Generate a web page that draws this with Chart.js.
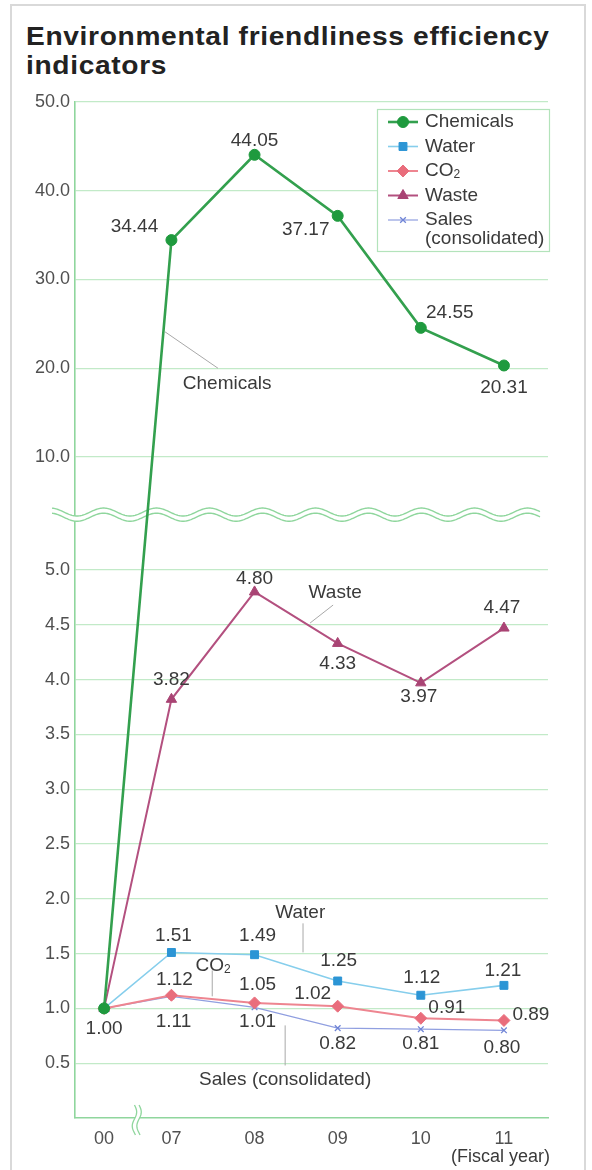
<!DOCTYPE html>
<html>
<head>
<meta charset="utf-8">
<title>Environmental friendliness efficiency indicators</title>
<script src="https://cdn.jsdelivr.net/npm/chart.js@4/dist/chart.umd.min.js"></script>
<style>
  html, body { margin: 0; padding: 0; background: #fff; }
  #wrap { position: relative; width: 592px; height: 1170px; overflow: hidden; }
  #frame { position: absolute; left: 10px; top: 4px; width: 572px; height: 1200px; border: 2px solid #d9d9d9; box-sizing: content-box; }
  #title {
    position: absolute; left: 26px; top: 22px; margin: 0;
    font: bold 25px "Liberation Sans", Arial, Helvetica, sans-serif;
    line-height: 29px; letter-spacing: 0.6px; color: #222;
    transform: scaleX(1.125); transform-origin: 0 0; white-space: nowrap;
  }
  canvas { position: absolute; left: 0; top: 0; }
</style>
</head>
<body>
<div id="wrap">
  <div id="frame"></div>
  <h1 id="title">Environmental friendliness efficiency<br>indicators</h1>
  <canvas id="chart" width="592" height="1170"></canvas>
</div>
<script>
// ---- data ----
const years = ['00', '07', '08', '09', '10', '11'];
const chemicals = [1.00, 34.44, 44.05, 37.17, 24.55, 20.31];
const water     = [1.00, 1.51, 1.49, 1.25, 1.12, 1.21];
const co2       = [1.00, 1.12, 1.05, 1.02, 0.91, 0.89];
const waste     = [1.00, 3.82, 4.80, 4.33, 3.97, 4.47];
const sales     = [1.00, 1.11, 1.01, 0.82, 0.81, 0.80];
const lowerTicks = [0.5, 1.0, 1.5, 2.0, 2.5, 3.0, 3.5, 4.0, 4.5, 5.0];
const upperTicks = [10, 20, 30, 40, 50];

// ---- look & layout ----
const FONT = '"Liberation Sans", Arial, Helvetica, sans-serif';
const TEXT_SIZE = 19;
const TEXT_COLOR = '#3a3a3a';
const TICK_COLOR = '#505050';
const GRID_COLOR = '#c2eac8';
const AXIS_COLOR = '#8fd69d';
const LEADER_COLOR = '#a8a8a8';

// broken value axis: two linear pieces sharing one axis (fractions of the axis length)
const Y_SEGMENTS = [
  { from: 0,  to: 5,  start: 0,      end: 0.5394 },
  { from: 10, to: 50, start: 0.6506, end: 1 }
];
// category axis with a shortened gap between the first and second year
const X_GAP = { padStart: 0.35, first: 0.81, padEnd: 0.53 };

// value label offsets (px from each point; null = no label)
const chemLabelPos  = [[0, 20], [-37, -13], [0, -14], [-32, 14], [29, -15], [0, 22]];
const waterLabelPos = [null, [2, -17], [3, -19], [1, -20], [1, -17], [-1, -15]];
const co2LabelPos   = [null, [3, -15], [3, -18], [-25, -12], [26, -10], [27, -6]];
const wasteLabelPos = [null, [0, -20], [0, -13], [0, 20], [-2, 14], [-2, -20]];
const salesLabelPos = [null, [2, 25], [3, 14], [0, 16], [0, 15], [-2, 17]];

// series name callouts, placed in axis units (category index, value)
const seriesNotes = [
  { text: 'Chemicals', at: [1.67, 18.3], leader: [[0.905, 24.1], [1.56, 20.0]] },
  { text: 'Waste', at: [2.97, 4.79], leader: [[2.945, 4.68], [2.668, 4.516]] },
  { text: 'Water', at: [2.55, 1.87], leader: [[2.583, 1.776], [2.583, 1.511]] },
  { text: 'CO₂', at: [1.50, 1.393], leader: [[1.491, 1.347], [1.491, 1.11]] },
  { text: 'Sales (consolidated)', at: [2.368, 0.352], leader: [[2.368, 0.845], [2.368, 0.479]] }
];

// ---- scales ----
class BrokenLinearScale extends Chart.LinearScale {
  static id = 'brokenLinear';
  buildTicks() {
    return lowerTicks.concat(upperTicks).map(value => ({ value }));
  }
  _toDecimal(v) {
    const [lo, hi] = Y_SEGMENTS;
    const seg = v <= (lo.to + hi.from) / 2 ? lo : hi;
    return seg.start + (v - seg.from) / (seg.to - seg.from) * (seg.end - seg.start);
  }
  getPixelForValue(v) {
    return this.getPixelForDecimal(this._toDecimal(v));
  }
  getValueForPixel(p) {
    const d = this.getDecimalForPixel(p);
    const [lo, hi] = Y_SEGMENTS;
    const seg = d <= (lo.end + hi.start) / 2 ? lo : hi;
    return seg.from + (d - seg.start) / (seg.end - seg.start) * (seg.to - seg.from);
  }
}

class GappedCategoryScale extends Chart.CategoryScale {
  static id = 'gappedCategory';
  getPixelForValue(value) {
    if (typeof value !== 'number') value = this.parse(value);
    if (value === null || isNaN(value)) return NaN;
    const d = value <= 1 ? value * X_GAP.first : X_GAP.first + (value - 1);
    const span = X_GAP.padStart + X_GAP.first + (this.getLabels().length - 2) + X_GAP.padEnd;
    return this.getPixelForDecimal((X_GAP.padStart + d) / span);
  }
}
Chart.register(BrokenLinearScale, GappedCategoryScale);

// ---- helpers ----
// draws text where '₂' becomes a small lowered 2
function drawRichText(ctx, text, x, y, size, align) {
  const parts = text.split('₂');
  const sub = Math.round(size * 0.62);
  const pieces = [];
  parts.forEach((p, i) => {
    if (p) pieces.push({ t: p, s: size, dy: 0 });
    if (i < parts.length - 1) pieces.push({ t: '2', s: sub, dy: size * 0.22 });
  });
  let total = 0;
  pieces.forEach(pc => { ctx.font = pc.s + 'px ' + FONT; pc.w = ctx.measureText(pc.t).width; total += pc.w; });
  let cx = align === 'center' ? x - total / 2 : (align === 'right' ? x - total : x);
  ctx.textAlign = 'left';
  pieces.forEach(pc => {
    ctx.font = pc.s + 'px ' + FONT;
    ctx.fillText(pc.t, cx, y + pc.dy);
    cx += pc.w;
  });
  return total;
}

function wrapWords(ctx, text, maxWidth) {
  const words = text.split(' ');
  const lines = [];
  let line = '';
  words.forEach(w => {
    const test = line ? line + ' ' + w : w;
    if (line && ctx.measureText(test).width > maxWidth) { lines.push(line); line = w; }
    else line = test;
  });
  if (line) lines.push(line);
  return lines;
}

// ---- plugins ----
const breakMarks = {
  id: 'breakMarks',
  beforeDatasetsDraw(chart) {
    const { ctx, chartArea: ca, scales: { x, y } } = chart;
    ctx.save();
    // horizontal wave across the value axis gap
    const y5 = y.getPixelForValue(5), y10 = y.getPixelForValue(10);
    const cy = y5 + (y10 - y5) * 0.49;
    const x0 = ca.left - 23, x1 = ca.right - 8, amp = 4, period = 53, phase = ca.left + 2;
    const wave = (off) => {
      ctx.beginPath();
      for (let px = x0; px <= x1; px += 1) {
        const py = cy + off + amp * Math.cos(2 * Math.PI * (px - phase) / period);
        px === x0 ? ctx.moveTo(px, py) : ctx.lineTo(px, py);
      }
    };
    ctx.strokeStyle = '#fff'; ctx.lineWidth = 5; wave(0); ctx.stroke();
    ctx.strokeStyle = AXIS_COLOR; ctx.lineWidth = 1.4;
    wave(-2.6); ctx.stroke();
    wave(2.6); ctx.stroke();

    // vertical squiggle on the category axis between the first two years
    const bx = (x.getPixelForValue(0) + x.getPixelForValue(1)) / 2 - 1;
    const yTop = ca.bottom - 13, yBot = ca.bottom + 17;
    const vwave = (off) => {
      ctx.beginPath();
      for (let py = yTop; py <= yBot; py += 1) {
        const px = bx + off + 2.2 * Math.sin(2 * Math.PI * (py - yTop) / 28);
        py === yTop ? ctx.moveTo(px, py) : ctx.lineTo(px, py);
      }
    };
    ctx.strokeStyle = '#fff'; ctx.lineWidth = 4; vwave(0); ctx.stroke();
    ctx.strokeStyle = AXIS_COLOR; ctx.lineWidth = 1.3;
    vwave(-2.3); ctx.stroke();
    vwave(2.3); ctx.stroke();
    ctx.restore();
  }
};

const annotations = {
  id: 'annotations',
  afterDatasetsDraw(chart) {
    const { ctx, chartArea: ca, scales: { x, y } } = chart;
    ctx.save();
    // leader lines + series names
    ctx.strokeStyle = LEADER_COLOR; ctx.lineWidth = 1;
    ctx.fillStyle = TEXT_COLOR; ctx.textBaseline = 'middle';
    seriesNotes.forEach(n => {
      const [a, b] = n.leader;
      ctx.beginPath();
      ctx.moveTo(x.getPixelForValue(a[0]), y.getPixelForValue(a[1]));
      ctx.lineTo(x.getPixelForValue(b[0]), y.getPixelForValue(b[1]));
      ctx.stroke();
      drawRichText(ctx, n.text, x.getPixelForValue(n.at[0]), y.getPixelForValue(n.at[1]), TEXT_SIZE, 'center');
    });
    // value labels
    const offsets = [chemLabelPos, waterLabelPos, co2LabelPos, wasteLabelPos, salesLabelPos];
    ctx.font = TEXT_SIZE + 'px ' + FONT;
    ctx.textAlign = 'center';
    chart.data.datasets.forEach((ds, i) => {
      const meta = chart.getDatasetMeta(i);
      meta.data.forEach((pt, j) => {
        const o = offsets[i][j];
        if (!o) return;
        ctx.fillText(ds.data[j].toFixed(2), pt.x + o[0], pt.y + o[1]);
      });
    });
    // axis caption
    ctx.textAlign = 'right';
    ctx.font = '18px ' + FONT;
    ctx.fillStyle = TEXT_COLOR;
    ctx.fillText('(Fiscal year)', ca.right + 2, ca.bottom + 39);
    ctx.restore();
  },
  afterDraw(chart) {
    // legend box in the upper right corner of the plot
    const { ctx, chartArea: ca } = chart;
    const box = { left: ca.right - 171, top: ca.top + 7, right: ca.right + 2, bottom: ca.top + 150 };
    ctx.save();
    ctx.fillStyle = '#fff';
    ctx.fillRect(box.left, box.top, box.right - box.left, box.bottom - box.top);
    ctx.strokeStyle = '#b3e3bb'; ctx.lineWidth = 1.2;
    ctx.strokeRect(box.left + 0.5, box.top + 0.5, box.right - box.left - 1, box.bottom - box.top - 1);
    ctx.textBaseline = 'middle';
    let rowY = box.top + 13;
    chart.data.datasets.forEach(ds => {
      const lx0 = box.left + 11, lx1 = box.left + 41, tx = box.left + 48;
      ctx.strokeStyle = ds.borderColor; ctx.lineWidth = ds.borderWidth;
      ctx.beginPath(); ctx.moveTo(lx0, rowY); ctx.lineTo(lx1, rowY); ctx.stroke();
      ctx.fillStyle = ds.pointBackgroundColor; ctx.strokeStyle = ds.pointBorderColor;
      ctx.lineWidth = ds.pointBorderWidth;
      Chart.helpers.drawPoint(ctx, { pointStyle: ds.pointStyle, radius: ds.pointRadius, rotation: 0, borderWidth: ds.pointBorderWidth }, (lx0 + lx1) / 2, rowY);
      ctx.fillStyle = TEXT_COLOR;
      ctx.font = TEXT_SIZE + 'px ' + FONT;
      const lines = wrapWords(ctx, ds.label, box.right - tx - 4);
      lines.forEach((ln, k) => drawRichText(ctx, ln, tx, rowY + k * 19, TEXT_SIZE, 'left'));
      rowY += 24.5;
    });
    ctx.restore();
  }
};

// ---- chart ----
new Chart(document.getElementById('chart'), {
  type: 'line',
  data: {
    labels: years,
    datasets: [
      { label: 'Chemicals', data: chemicals, borderColor: '#33a04e', borderWidth: 2.6,
        pointStyle: 'circle', pointRadius: 5.5, pointBackgroundColor: '#1f9a3e', pointBorderColor: '#1f9a3e', pointBorderWidth: 1 },
      { label: 'Water', data: water, borderColor: '#86ceec', borderWidth: 1.6,
        pointStyle: 'rect', pointRadius: 5.6, pointBackgroundColor: '#2c95d5', pointBorderColor: '#2c95d5', pointBorderWidth: 1 },
      { label: 'CO₂', data: co2, borderColor: '#ee8590', borderWidth: 2,
        pointStyle: 'rectRot', pointRadius: 6, pointBackgroundColor: '#e96d7c', pointBorderColor: '#e96d7c', pointBorderWidth: 1 },
      { label: 'Waste', data: waste, borderColor: '#b3507f', borderWidth: 2,
        pointStyle: 'triangle', pointRadius: 6, pointBackgroundColor: '#a94474', pointBorderColor: '#a94474', pointBorderWidth: 1 },
      { label: 'Sales (consolidated)', data: sales, borderColor: '#909fe0', borderWidth: 1.2,
        pointStyle: 'crossRot', pointRadius: 4, pointBackgroundColor: '#6f84d6', pointBorderColor: '#6f84d6', pointBorderWidth: 1.3 }
    ]
  },
  options: {
    responsive: false,
    devicePixelRatio: 1,
    animation: false,
    events: [],
    layout: { padding: { top: 102, right: 44, bottom: 0, left: 0 } },
    elements: { line: { tension: 0 } },
    plugins: { legend: { display: false }, tooltip: { enabled: false }, title: { display: false } },
    scales: {
      x: {
        type: 'gappedCategory',
        offset: false,
        grid: { display: false },
        border: { display: true, color: AXIS_COLOR, width: 1.6 },
        ticks: { color: TICK_COLOR, font: { size: 18, family: FONT }, padding: 2, maxRotation: 0, autoSkip: false },
        afterFit(scale) { scale.height = 52; }
      },
      y: {
        type: 'brokenLinear',
        min: 0, max: 50,
        grid: { color: GRID_COLOR, lineWidth: 1.3, drawTicks: false },
        border: { display: true, color: AXIS_COLOR, width: 1.6 },
        ticks: { color: TICK_COLOR, font: { size: 18, family: FONT }, padding: 5, autoSkip: false,
                 callback: v => Number(v).toFixed(1) },
        afterFit(scale) { scale.width = 75; }
      }
    }
  },
  plugins: [breakMarks, annotations]
});
</script>
</body>
</html>
